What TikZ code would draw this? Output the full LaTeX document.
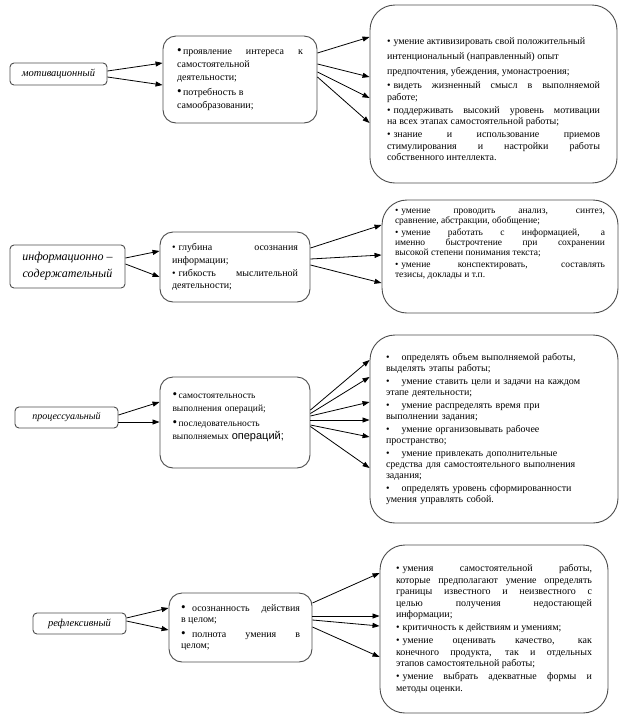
\documentclass[tikz,border=0pt]{standalone}
\usepackage{fontspec}
\setmainfont{Liberation Serif}
\newfontfamily\arialf{Liberation Sans}
\usetikzlibrary{arrows.meta}
\setlength{\parindent}{0pt}
\newcommand{\pgap}[1][1.5pt]{\par\vspace{#1}}
\newcommand{\bul}{\textbullet\hspace{3pt}}
\newcommand{\bbul}{{\fontsize{13}{10}\selectfont\textbullet}\hspace{1.5pt}}
\begin{document}
\begin{tikzpicture}[x=1pt,y=-1pt,
  frame/.style={draw=black!70, line width=0.9pt, inner sep=0pt},
  lbox/.style={frame, rounded corners=4pt, align=center, font=\fontsize{10.5}{12}\selectfont\itshape},
  mbox/.style={frame, rounded corners=13pt, align=justify, font=\fontsize{10}{13}\selectfont},
  rbox/.style={frame, rounded corners=25pt, align=justify, font=\fontsize{10}{11.5}\selectfont},
  arr/.style={-{Triangle[length=7pt,width=5pt]}, line width=0.8pt, black}
]
\useasboundingbox (0,0) rectangle (623,716);

% ---------- row 1
\node[lbox, minimum width=97pt, minimum height=22pt] (L1) at (58.5,74) {мотивационный};
\node[mbox, minimum width=154pt, minimum height=87pt, text width=126pt] (M1) at (240,79.5)
 {\bbul проявление интереса к\linebreak самостоятельной\\ деятельности;\pgap[2pt]
  \bbul потребность в\\ самообразовании;};
\node[rbox, minimum width=247pt, minimum height=178pt, text width=213pt] (R1) at (493.5,94)
 {{\fontsize{10}{15}\selectfont \rule{0pt}{17pt}\bul умение активизировать свой положительный\\
  интенциональный (направленный) опыт\\
  предпочтения, убеждения, умонастроения;\par}\vspace{3pt}
  \bul видеть жизненный смысл в выполняемой\linebreak работе;\pgap
  \bul поддерживать высокий уровень мотивации\linebreak на всех этапах самостоятельной работы;\pgap
  \bul знание и использование приемов\linebreak стимулирования и настройки работы\linebreak собственного интеллекта.};

\draw[arr] ([yshift=3pt]L1.east) -- ([yshift=16.5pt]M1.west);
\draw[arr] ([yshift=-3pt]L1.east) -- ([yshift=-5.5pt]M1.west);
\draw[arr] ([yshift=26.5pt]M1.east) -- ([yshift=57pt]R1.west);
\draw[arr] ([yshift=15.5pt]M1.east) -- ([yshift=17pt]R1.west);
\draw[arr] ([yshift=7.5pt]M1.east) -- ([yshift=-4pt]R1.west);
\draw[arr] ([yshift=2.5pt]M1.east) -- ([yshift=-29pt]R1.west);

% ---------- row 2
\node[lbox, font=\fontsize{12}{17}\selectfont\itshape, minimum width=115pt, minimum height=43pt] (L2) at (67.5,266.5)
 {информационно –\\ содержательный};
\node[mbox, minimum width=150pt, minimum height=70pt, text width=126pt, font=\fontsize{10}{12.5}\selectfont] (M2) at (235,267)
 {\bul глубина осознания\linebreak информации;\pgap[0.5pt]
  \bul гибкость мыслительной\linebreak деятельности;};
\node[rbox, minimum width=236pt, minimum height=113pt, text width=210pt, font=\fontsize{9.5}{10.2}\selectfont] (R2) at (500,256.5)
 {\bul умение проводить анализ, синтез,\linebreak сравнение, абстракции, обобщение;\pgap
  \bul умение работать с информацией, а\linebreak именно быстрочтение при сохранении\linebreak высокой степени понимания текста;\pgap
  \bul умение конспектировать, составлять\linebreak тезисы, доклады и т.п.\par\rule{0pt}{24pt}};

\draw[arr] ([yshift=8.5pt]L2.east) -- ([yshift=16pt]M2.west);
\draw[arr] ([yshift=2.5pt]L2.east) -- ([yshift=-10pt]M2.west);
\draw[arr] ([yshift=19pt]M2.east) -- ([yshift=31.5pt]R2.west);
\draw[arr] ([yshift=8pt]M2.east) -- ([yshift=1.5pt]R2.west);
\draw[arr] ([yshift=2pt]M2.east) -- ([yshift=-26.5pt]R2.west);

% ---------- row 3
\node[lbox, minimum width=103pt, minimum height=21pt, font=\fontsize{10}{12}\selectfont\itshape] (L3) at (66.5,417.5) {процессуальный};
\node[mbox, minimum width=150pt, minimum height=91pt, text width=125pt, align=left, font=\fontsize{9.5}{13}\selectfont] (M3) at (235,422.5)
 {\bbul самостоятельность\\ выполнения операций;\pgap[2pt]
  \bbul последовательность\\ выполняемых {\arialf\fontsize{11}{13}\selectfont операций;}\par\rule{0pt}{8pt}};
\node[rbox, minimum width=248pt, minimum height=188pt, text width=216pt, align=left, font=\fontsize{10}{11}\selectfont] (R3) at (494,429)
 {\textbullet\hspace{12pt}определять объем выполняемой работы,\\ выделять этапы работы;\pgap[2pt]
  \textbullet\hspace{12pt}умение ставить цели и задачи на каждом\\ этапе деятельности;\pgap[2pt]
  \textbullet\hspace{12pt}умение распределять время при\\ выполнении задания;\pgap[2pt]
  \textbullet\hspace{12pt}умение организовывать рабочее\\ пространство;\pgap[2pt]
  \textbullet\hspace{12pt}умение привлекать дополнительные\\ средства для самостоятельного выполнения\\ задания;\pgap[2pt]
  \textbullet\hspace{12pt}определять уровень сформированности\\ умения управлять собой.};

\draw[arr] ([yshift=2.5pt]L3.east) -- ([yshift=20.5pt]M3.west);
\draw[arr] ([yshift=-4.5pt]L3.east) -- ([yshift=0.5pt]M3.west);
\draw[arr] ([yshift=12.5pt]M3.east) -- ([yshift=69pt]R3.west);
\draw[arr] ([yshift=9pt]M3.east) -- ([yshift=52pt]R3.west);
\draw[arr] ([yshift=6.5pt]M3.east) -- ([yshift=27pt]R3.west);
\draw[arr] ([yshift=2.5pt]M3.east) -- ([yshift=9pt]R3.west);
\draw[arr] ([yshift=-2.5pt]M3.east) -- ([yshift=-8pt]R3.west);
\draw[arr] ([yshift=-4pt]M3.east) -- ([yshift=-39pt]R3.west);

% ---------- row 4
\node[lbox, minimum width=93pt, minimum height=21pt, font=\fontsize{10.5}{12}\selectfont\itshape] (L4) at (79.5,623.5) {рефлексивный};
\node[mbox, minimum width=143pt, minimum height=69pt, text width=119pt, font=\fontsize{10}{11.5}\selectfont] (M4) at (240.5,627.5)
 {\bbul\hspace{5pt}осознанность действия\linebreak в целом;\pgap[3pt]
  \bbul\hspace{5pt}полнота умения в\linebreak целом;};
\node[rbox, minimum width=228pt, minimum height=168pt, text width=196pt] (R4) at (494,629)
 {\bul умения самостоятельной работы,\linebreak которые предполагают умение определять\linebreak границы известного и неизвестного с\linebreak целью получения недостающей\linebreak информации;\pgap
  \bul критичность к действиям и умениям;\pgap
  \bul умение оценивать качество, как\linebreak конечного продукта, так и отдельных\linebreak этапов самостоятельной работы;\pgap
  \bul умение выбрать адекватные формы и\linebreak методы оценки.};

\draw[arr] ([yshift=5.5pt]L4.east) -- ([yshift=19.5pt]M4.west);
\draw[arr] ([yshift=2.5pt]L4.east) -- ([yshift=-2.5pt]M4.west);
\draw[arr] ([yshift=24.5pt]M4.east) -- ([yshift=56pt]R4.west);
\draw[arr] ([yshift=11.5pt]M4.east) -- ([yshift=13pt]R4.west);
\draw[arr] ([yshift=7.5pt]M4.east) -- ([yshift=3pt]R4.west);
\draw[arr] ([yshift=0.5pt]M4.east) -- ([yshift=-28pt]R4.west);
\end{tikzpicture}
\end{document}
